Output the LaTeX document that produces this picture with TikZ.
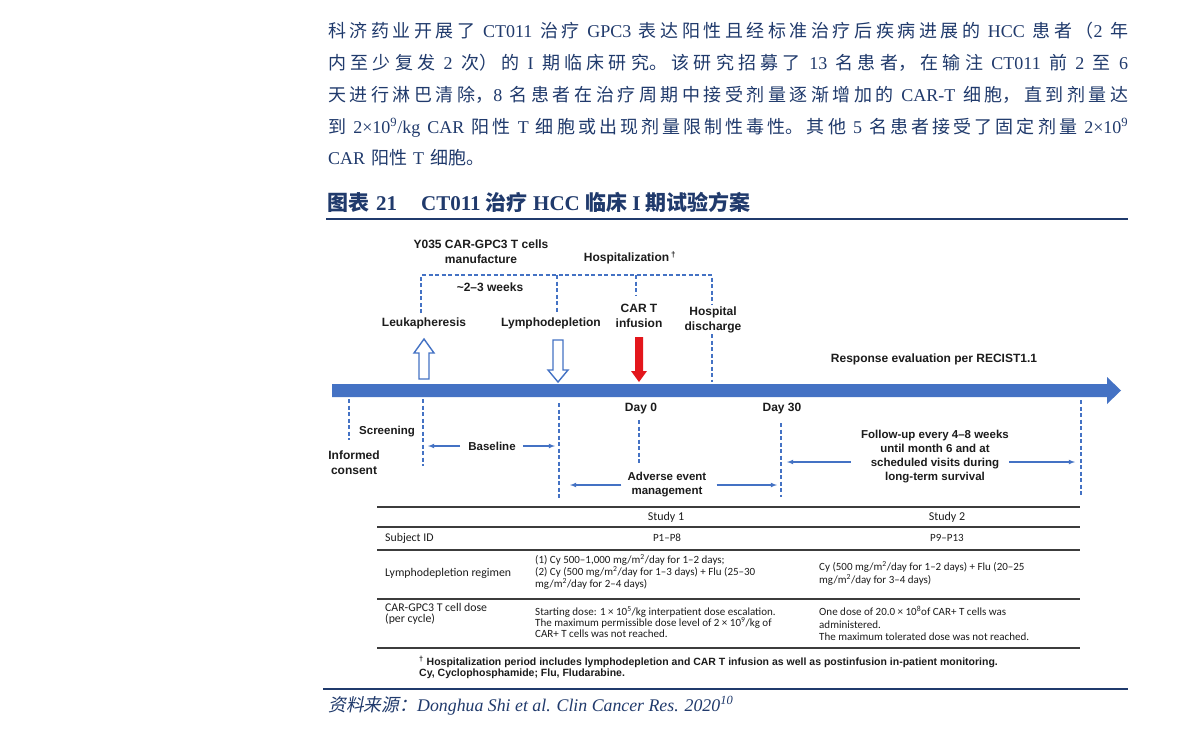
\documentclass[tikz,border=0pt]{standalone}
\usepackage{fontspec}
\setmainfont{Liberation Serif}
\newfontfamily\cjk{Noto Sans CJK SC}
\newfontfamily\cjksl[FakeSlant=0.2]{Noto Sans CJK SC}
\newfontfamily\arial{Liberation Sans}
\newfontfamily\calib{Carlito}
\usepackage{tikz}
\usetikzlibrary{arrows}
\definecolor{navy}{HTML}{203A6C}
\definecolor{barblue}{HTML}{4472C4}
\definecolor{arrowred}{HTML}{E3161C}
\definecolor{ink}{HTML}{1C1C1C}
\definecolor{rulegray}{HTML}{3C3C3C}
\XeTeXlinebreaklocale "zh"
\XeTeXlinebreakskip=0pt plus 2pt
\newcommand{\lat}[1]{{\rmfamily #1}}
\newcommand{\unit}[1]{\mbox{\rmfamily #1}}
\newcommand{\fullline}{\parfillskip=0pt\par}

\begin{document}
\begin{tikzpicture}[x=1pt, y=-1pt,
	every node/.style={inner sep=0pt},
	para/.style={anchor=base west, text width=800pt, align=justify, font=\fontsize{18}{20}\cjk, text=navy},
	lab/.style={font=\fontsize{12}{15}\arial\bfseries, text=ink, align=center},
	sublab/.style={font=\fontsize{11.5}{14}\arial\bfseries, text=ink, align=center},
	dashline/.style={barblue, line width=1.8pt, dash pattern=on 4pt off 2.5pt},
	thinarrow/.style={barblue, line width=1.1pt, -latex},
	cell/.style={font=\fontsize{11}{11.5}\calib, text=ink, align=left},
	rowlab/.style={anchor=west, font=\fontsize{11.8}{11}\calib, text=ink, align=left},
	hrule/.style={rulegray, line width=1.2pt},
	note/.style={anchor=west, font=\fontsize{10.5}{12}\arial\bfseries, text=ink}]
	\fill[white] (0,0) rectangle (1191,734);
	\useasboundingbox (0,0) rectangle (1191,734);

	% text above the figure
	\node[para] (p1) at (328,37) {科济药业开展了 \lat{CT011} 治疗 \lat{GPC3} 表达阳性且经标准治疗后疾病进展的 \lat{HCC} 患者（\lat{2} 年\fullline};
	\node[para] (p2) at (328,69) {内至少复发 \lat{2} 次）的 \lat{I} 期临床研究。该研究招募了 \lat{13} 名患者，在输注 \lat{CT011} 前 \lat{2} 至 \lat{6}\fullline};
	\node[para] (p3) at (328,101) {天进行淋巴清除，\lat{8} 名患者在治疗周期中接受剂量逐渐增加的 \lat{CAR-T} 细胞，直到剂量达\fullline};
	\node[para] (p4) at (328,133) {到 \unit{2×10\textsuperscript{9}/kg} \lat{CAR} 阳性 \lat{T} 细胞或出现剂量限制性毒性。其他 \lat{5} 名患者接受了固定剂量 \unit{2×10\textsuperscript{9}}\fullline};
	\node[para, align=left] (p5) at (328,164) {\lat{CAR} 阳性 \lat{T} 细胞。};

	\node[anchor=base west, text=navy, font=\fontsize{21}{22}\selectfont\bfseries] (title) at (327,210) {{\cjk 图表}\hspace{7pt}21\hspace{24pt}CT011 {\cjk 治疗} HCC {\cjk 临床} I {\cjk 期试验方案}};
	\draw[navy, line width=2pt] (326,219) -- (1128,219);

	% timeline
	\fill[barblue] (332,384) -- (1107,384) -- (1107,377) -- (1121,390.5) -- (1107,404) -- (1107,397) -- (332,397) -- cycle;
	\draw[barblue, line width=1.4pt, fill=white] (419,379) -- (419,353) -- (414,353) -- (424,339) -- (434,353) -- (429,353) -- (429,379) -- cycle;
	\draw[barblue, line width=1.4pt, fill=white] (553,340) -- (563,340) -- (563,370) -- (568,370) -- (558,382) -- (548,370) -- (553,370) -- cycle;
	\fill[arrowred] (635,337) -- (643,337) -- (643,371) -- (647,371) -- (639,382) -- (631,371) -- (635,371) -- cycle;

	\node[lab] (manuf) at (481,252) {Y035 CAR-GPC3 T cells\\manufacture};
	\node[lab] (hospz) at (630,258) {Hospitalization\,\textsuperscript{†}};
	\node[lab] (weeks) at (490,287) {\textasciitilde2–3 weeks};
	\node[lab] (leuk) at (424,323) {Leukapheresis};
	\node[lab] (lymph) at (551,323) {Lymphodepletion};
	\node[lab] (cart) at (639,316) {CAR T\\infusion};
	\node[lab] (disch) at (713,320) {Hospital\\discharge};
	\node[lab] (resp) at (934,359) {Response evaluation per RECIST1.1};

	\coordinate (leuk top) at (421,275);
	\coordinate (leuk bot) at (421,313);
	\coordinate (lymph top) at (557,275);
	\coordinate (lymph bot) at (557,313);
	\coordinate (inf top) at (636,275);
	\coordinate (inf bot) at (636,296);
	\coordinate (disch top) at (712,275);
	\coordinate (disch mid) at (712,305);
	\coordinate (disch low) at (712,334);
	\coordinate (disch bar) at (712,382);
	\draw[dashline] (leuk bot) -- (leuk top) -- (disch top) -- (disch mid);
	\draw[dashline] (lymph top) -- (lymph bot);
	\draw[dashline] (inf top) -- (inf bot);
	\draw[dashline] (disch low) -- (disch bar);

	% below the bar
	\node[sublab] (screen) at (387,432) {Screening};
	\node[lab] (consent) at (354,463) {Informed\\consent};
	\node[sublab] (baseline) at (492,446) {Baseline};
	\node[lab] (day0) at (641,409) {Day 0};
	\node[sublab] (adverse) at (667,485) {Adverse event\\management};
	\node[lab] (day30) at (782,409) {Day 30};
	\node[sublab] (follow) at (935,457) {Follow-up every 4–8 weeks\\until month 6 and at\\scheduled visits during\\long-term survival};

	\coordinate (ic a) at (349,399);
	\coordinate (ic b) at (349,440);
	\coordinate (scr a) at (423,399);
	\coordinate (scr b) at (423,466);
	\coordinate (ld a) at (559,403);
	\coordinate (ld b) at (559,498);
	\coordinate (d0 a) at (639,420);
	\coordinate (d0 b) at (639,463);
	\coordinate (d30 a) at (781,423);
	\coordinate (d30 b) at (781,497);
	\coordinate (end a) at (1081,400);
	\coordinate (end b) at (1081,497);
	\foreach \a/\b in {ic a/ic b, scr a/scr b, ld a/ld b, d0 a/d0 b, d30 a/d30 b, end a/end b}
		\draw[dashline] (\a) -- (\b);

	\draw[thinarrow] ([xshift=-8pt]baseline.west) -- ([xshift=5pt]baseline.west -| scr a);
	\draw[thinarrow] ([xshift=7pt]baseline.east) -- ([xshift=-4pt]baseline.east -| ld a);
	\draw[thinarrow] ([xshift=-6pt]adverse.west) -- ([xshift=11pt]adverse.west -| ld a);
	\draw[thinarrow] ([xshift=10pt]adverse.east) -- ([xshift=-4pt]adverse.east -| d30 a);
	\draw[thinarrow] ([xshift=-10pt,yshift=-5pt]follow.west) -- ([xshift=6pt,yshift=-5pt]follow.west -| d30 a);
	\draw[thinarrow] ([yshift=-5pt]follow.east) -- ([xshift=-6pt,yshift=-5pt]follow.east -| end a);

	% table
	\draw[hrule, line width=1.5pt] (377,507) -- (1080,507);
	\foreach \yy in {527,550,599}
		\draw[hrule] (377,\yy) -- (1080,\yy);
	\draw[hrule, line width=2pt] (377,648) -- (1080,648);

	\node[cell, font=\fontsize{12}{14}\calib] (study1) at (666,517) {Study 1};
	\node[cell, font=\fontsize{12}{14}\calib] (study2) at (947,517) {Study 2};
	\node[rowlab] (subj) at (385,538) {Subject ID};
	\node[cell] (ids1) at (667,538) {P1–P8};
	\node[cell] (ids2) at (947,538) {P9–P13};
	\node[rowlab] (regimen) at (385,573) {Lymphodepletion regimen};
	\node[cell, anchor=west, font=\fontsize{11}{10.8}\calib] (reg1) at (535,572) {(1) Cy 500–1,000 mg/m\textsuperscript{2}/day for 1–2 days;\\(2) Cy (500 mg/m\textsuperscript{2}/day for 1–3 days) + Flu (25–30\\mg/m\textsuperscript{2}/day for 2–4 days)};
	\node[cell, anchor=west, font=\fontsize{11}{13}\calib] (reg2) at (819,573.5) {Cy (500 mg/m\textsuperscript{2}/day for 1–2 days) + Flu (20–25\\mg/m\textsuperscript{2}/day for 3–4 days)};
	\node[rowlab] (dose) at (385,614) {CAR-GPC3 T cell dose\\(per cycle)};
	\node[cell, anchor=west, font=\fontsize{11}{11.2}\calib] (dose1) at (535,622) {Starting dose: 1 × 10\textsuperscript{5}/kg interpatient dose escalation.\\The maximum permissible dose level of 2 × 10\textsuperscript{9}/kg of\\CAR+ T cells was not reached.};
	\node[cell, anchor=west, font=\fontsize{11}{12.5}\calib] (dose2) at (819,623.5) {One dose of 20.0 × 10\textsuperscript{8}of CAR+ T cells was\\administered.\\The maximum tolerated dose was not reached.};

	\node[note] (note1) at (419,662) {\textsuperscript{†} Hospitalization period includes lymphodepletion and CAR T infusion as well as postinfusion in-patient monitoring.};
	\node[note] (note2) at (419,674) {Cy, Cyclophosphamide; Flu, Fludarabine.};

	% source
	\draw[navy, line width=2pt] (323,689) -- (1128,689);
	\node[anchor=base west, text=navy, font=\fontsize{17.8}{20}\selectfont] (source) at (328,711) {{\cjksl 资料来源：}\textit{Donghua Shi et al. Clin Cancer Res. 2020\textsuperscript{10}}};
\end{tikzpicture}
\end{document}
